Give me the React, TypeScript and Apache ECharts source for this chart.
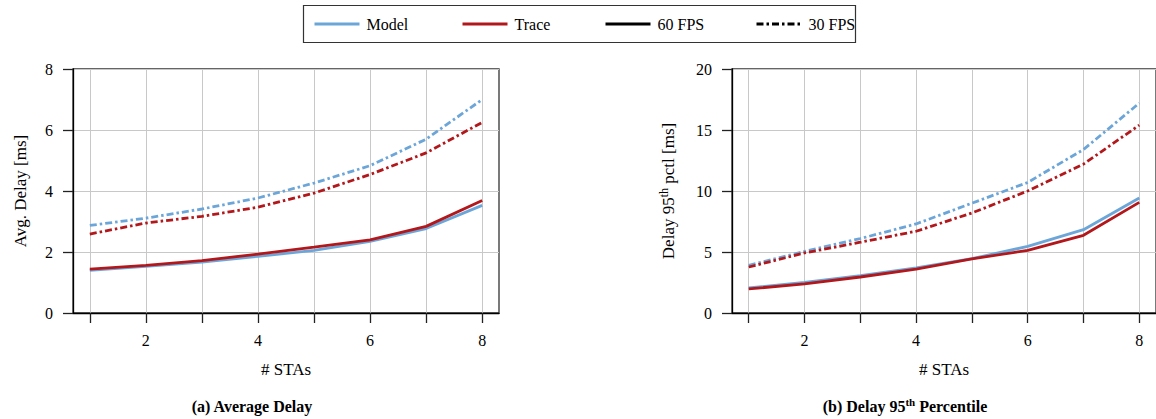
import React, { useEffect, useRef } from "react";
import * as echarts from "echarts";

// ---- data ----
const STAS = [1, 2, 3, 4, 5, 6, 7, 8];
const X_TICKS = [1, 2, 3, 4, 5, 6, 7, 8];
const X_LABELS = [2, 4, 6, 8];

// (a) Average delay [ms]
const AVG_MODEL_60 = [1.4, 1.53, 1.67, 1.86, 2.05, 2.35, 2.77, 3.53];
const AVG_TRACE_60 = [1.44, 1.56, 1.72, 1.93, 2.16, 2.4, 2.84, 3.69];
const AVG_MODEL_30 = [2.87, 3.11, 3.41, 3.77, 4.26, 4.83, 5.7, 7.0];
const AVG_TRACE_30 = [2.59, 2.95, 3.17, 3.47, 3.93, 4.54, 5.25, 6.25];

// (b) Delay 95th percentile [ms]
const P95_MODEL_60 = [2.05, 2.5, 3.06, 3.69, 4.45, 5.46, 6.83, 9.43];
const P95_TRACE_60 = [1.97, 2.38, 2.95, 3.6, 4.43, 5.14, 6.37, 9.07];
const P95_MODEL_30 = [3.9, 5.05, 6.1, 7.3, 9.0, 10.7, 13.4, 17.2];
const P95_TRACE_30 = [3.77, 4.92, 5.8, 6.7, 8.2, 10.0, 12.2, 15.4];

const BLUE = "#6ca6d9";
const RED = "#b2181b";
const FONT = "Liberation Serif";
const DASHDOT = [7, 3, 2.5, 3];

const pairs = (ys: number[]) => STAS.map((x, i) => [x, ys[i]]);

function xAxisCfg(gridIndex: number) {
  return {
    type: "value",
    gridIndex,
    min: 0.7,
    max: 8.3,
    name: "# STAs",
    nameLocation: "middle",
    nameGap: 48,
    nameTextStyle: { fontFamily: FONT, fontSize: 17, color: "#000" },
    axisLine: { show: true, onZero: false, lineStyle: { color: "#000", width: 1.3 } },
    axisTick: {
      show: true,
      customValues: X_TICKS,
      length: 10,
      lineStyle: { color: "#222", width: 1.3 },
    },
    axisLabel: {
      customValues: X_LABELS,
      margin: 19,
      fontFamily: FONT,
      fontSize: 16,
      color: "#000",
    },
    splitLine: { show: true, lineStyle: { color: "#c8c8c8", width: 1 } },
  };
}

function yAxisCfg(gridIndex: number, max: number, interval: number, name: any, gap: number, rich?: any) {
  return {
    type: "value",
    gridIndex,
    min: 0,
    max,
    interval,
    name,
    nameLocation: "middle",
    nameGap: gap,
    nameTextStyle: { fontFamily: FONT, fontSize: 17, color: "#000", rich },
    axisLine: { show: true, lineStyle: { color: "#000", width: 1.3 } },
    axisTick: { show: true, length: 10, lineStyle: { color: "#222", width: 1.3 } },
    axisLabel: { margin: 20, fontFamily: FONT, fontSize: 16, color: "#000" },
    splitLine: { show: true, lineStyle: { color: "#c8c8c8", width: 1 } },
  };
}

function lineSeries(name: string, data: number[], color: string, dashed: boolean, xi: number) {
  return {
    type: "line",
    name,
    xAxisIndex: xi,
    yAxisIndex: xi,
    data: pairs(data),
    symbol: "none",
    color,
    lineStyle: { color, width: 2.8, type: dashed ? DASHDOT : "solid", cap: "butt" },
    z: 3,
  };
}

function legendItem(name: string, left: number) {
  return {
    data: [name],
    left,
    top: 16,
    padding: 0,
    itemWidth: 45,
    itemHeight: 14,
    itemGap: 0,
    selectedMode: false,
    itemStyle: { opacity: 0, borderWidth: 0 },
    lineStyle: { width: 3 },
    textStyle: { fontFamily: FONT, fontSize: 16, color: "#000", padding: [0, 0, 0, 2] },
  };
}

export default function App() {
  const ref = useRef<HTMLDivElement>(null);
  useEffect(() => {
    if (!ref.current) return;
    const chart = echarts.init(ref.current, null, { renderer: "svg" });
    const option: any = {
      animation: false,
      backgroundColor: "#fff",
      textStyle: { fontFamily: FONT },
      grid: [
        { left: 73, top: 69, width: 426, height: 244, show: true, borderColor: "#333", borderWidth: 1.3, backgroundColor: "transparent" },
        { left: 732, top: 69, width: 426, height: 244, show: true, borderColor: "#333", borderWidth: 1.3, backgroundColor: "transparent" },
      ],
      xAxis: [xAxisCfg(0), xAxisCfg(1)],
      yAxis: [
        yAxisCfg(0, 8, 2, "Avg. Delay [ms]", 44),
        yAxisCfg(1, 20, 5, "{a|Delay 95}{s|th}{a| pctl [ms]}", 54, {
          a: { fontFamily: FONT, fontSize: 17, color: "#000" },
          s: { fontFamily: FONT, fontSize: 12, color: "#000", padding: [0, 0, 8, 0] },
        }),
      ],
      legend: [
        legendItem("Model", 313),
        legendItem("Trace", 461),
        legendItem("60 FPS", 604),
        legendItem("30 FPS", 755),
      ],
      series: [
        lineSeries("Model", AVG_MODEL_60, BLUE, false, 0),
        lineSeries("Trace", AVG_TRACE_60, RED, false, 0),
        lineSeries("Model 30 FPS (a)", AVG_MODEL_30, BLUE, true, 0),
        lineSeries("Trace 30 FPS (a)", AVG_TRACE_30, RED, true, 0),
        lineSeries("Model 60 FPS (b)", P95_MODEL_60, BLUE, false, 1),
        lineSeries("Trace 60 FPS (b)", P95_TRACE_60, RED, false, 1),
        lineSeries("Model 30 FPS (b)", P95_MODEL_30, BLUE, true, 1),
        lineSeries("Trace 30 FPS (b)", P95_TRACE_30, RED, true, 1),
        { type: "line", name: "60 FPS", xAxisIndex: 0, yAxisIndex: 0, data: [], symbol: "none", color: "#000", lineStyle: { color: "#000", width: 2.8 } },
        { type: "line", name: "30 FPS", xAxisIndex: 0, yAxisIndex: 0, data: [], symbol: "none", color: "#000", lineStyle: { color: "#000", width: 2.8, type: DASHDOT } },
      ],
      graphic: [
        {
          type: "rect",
          shape: { x: 303.5, y: 5.5, width: 552, height: 37 },
          style: { fill: "none", stroke: "#333", lineWidth: 1.2 },
          silent: true,
        },
        {
          type: "text",
          x: 252,
          y: 406,
          style: {
            text: "(a) Average Delay",
            fontFamily: FONT,
            fontSize: 16,
            fontWeight: "bold",
            fill: "#000",
            align: "center",
            verticalAlign: "middle",
          },
        },
        {
          type: "text",
          x: 905,
          y: 406,
          style: {
            text: "{b|(b) Delay 95}{s|th}{b| Percentile}",
            fontFamily: FONT,
            align: "center",
            verticalAlign: "middle",
            rich: {
              b: { fontFamily: FONT, fontSize: 16, fontWeight: "bold", fill: "#000" },
              s: { fontFamily: FONT, fontSize: 11, fontWeight: "bold", fill: "#000", padding: [0, 0, 8, 0] },
            },
          },
        },
      ],
    };
    chart.setOption(option);
    return () => chart.dispose();
  }, []);
  return (
    <div
      ref={ref}
      style={{ position: "fixed", left: 0, top: 0, width: 1156, height: 419, background: "#fff" }}
    />
  );
}
